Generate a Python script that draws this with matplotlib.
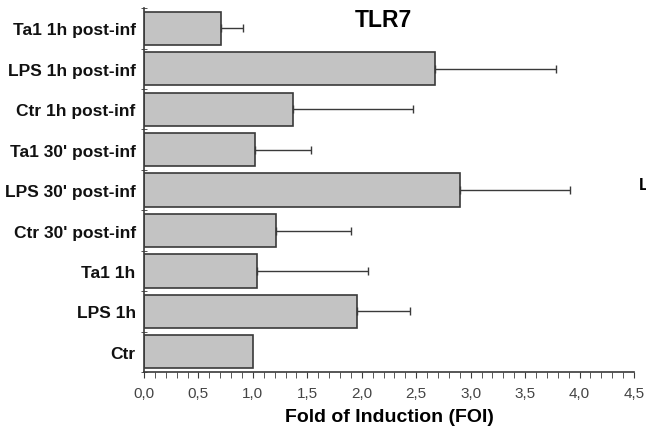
import numpy as np
import matplotlib
matplotlib.use("Agg")
import matplotlib.pyplot as plt
from matplotlib.ticker import MultipleLocator, FixedLocator

plt.rcParams['font.family'] = ['Liberation Sans', 'DejaVu Sans']

# categories from bottom to top
labels = ["Ctr", "LPS 1h", "Ta1 1h", "Ctr 30' post-inf", "LPS 30' post-inf",
          "Ta1 30' post-inf", "Ctr 1h post-inf", "LPS 1h post-inf", "Ta1 1h post-inf"]
foi = [1.00, 1.96, 1.04, 1.21, 2.90, 1.02, 1.37, 2.67, 0.71]
err_top = [1.00, 2.44, 2.06, 1.90, 3.91, 1.53, 2.47, 3.78, 0.91]
xticks = [0.0, 0.5, 1.0, 1.5, 2.0, 2.5, 3.0, 3.5, 4.0, 4.5]


def main():
    fig = plt.figure(figsize=(6.46, 4.35), dpi=100)
    ax = fig.add_axes([0.2229, 0.1425, 0.7585, 0.8365])
    y = np.arange(len(labels))
    foi_a = np.array(foi)
    err = np.array(err_top) - foi_a
    ax.barh(y, foi, height=0.82, color='#c3c3c3', edgecolor='#3a3a3a', linewidth=1.2)
    has_err = err > 0
    ax.errorbar(foi_a[has_err], y[has_err], xerr=[np.zeros(has_err.sum()), err[has_err]],
                fmt='none', ecolor='#3a3a3a', elinewidth=1.0, capsize=3, capthick=1.0)
    ax.set_xlim(0, 4.5)
    ax.set_ylim(-0.5, len(labels) - 0.5)

    ax.set_yticks(y)
    ax.set_yticklabels(labels, fontsize=12.5, fontweight='bold', color='#111111')
    ax.tick_params(axis='y', which='major', length=0, pad=6)
    ax.yaxis.set_minor_locator(FixedLocator(np.arange(-0.5, len(labels), 1.0)))
    ax.tick_params(axis='y', which='minor', length=5, direction='inout', color='#3a3a3a')

    ax.set_xticks(xticks)
    ax.set_xticklabels([("%.1f" % t).replace('.', ',') for t in xticks],
                       fontsize=11, color='#444444')
    ax.xaxis.set_minor_locator(MultipleLocator(0.1))
    ax.tick_params(axis='x', which='both', length=4, direction='out', color='#3a3a3a', pad=6)

    for s in ['top', 'right']:
        ax.spines[s].set_visible(False)
    for s in ['left', 'bottom']:
        ax.spines[s].set_color('#3a3a3a')
        ax.spines[s].set_linewidth(1.2)

    ax.set_xlabel("Fold of Induction (FOI)", fontsize=14, fontweight='bold', labelpad=6)
    fig.text(0.593, 0.952, "TLR7", fontsize=16.5, fontweight='bold', ha='center', va='center')
    # letter clipped at the right edge, as in the source image
    fig.text(0.989, 0.574, "L", fontsize=12, fontweight='bold', ha='left', va='center')

    fig.savefig("out.png", dpi=100)


if __name__ == "__main__":
    main()
